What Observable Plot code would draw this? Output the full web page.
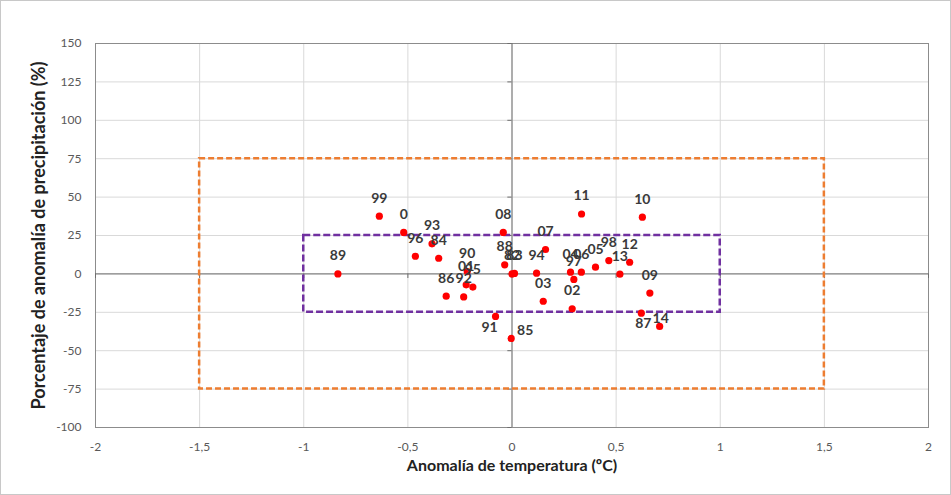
<!DOCTYPE html>
<html><head><meta charset="utf-8">
<script src="https://cdn.jsdelivr.net/npm/d3@7"></script>
<script src="https://cdn.jsdelivr.net/npm/@observablehq/plot@0.6"></script>
<style>
body{margin:0;background:#fff}
#chart svg{display:block;outline:1px solid #c8c8c8;outline-offset:-1px}
</style>
</head><body><div id="chart"></div>
<script>
// ---- data ----
const years = ["84","85","86","87","88","89","90","91","92","93","94","95","96","97","98","99",
  "0","01","02","03","04","05","06","07","08","09","10","11","12","13","14","82","83"];
const tempAnomaly = [-0.352,-0.004,-0.316,0.621,-0.035,-0.836,-0.215,-0.079,-0.232,-0.384,0.118,-0.188,-0.464,0.297,0.465,-0.637,
  -0.52,-0.22,0.289,0.15,0.281,0.401,0.333,0.161,-0.042,0.662,0.626,0.334,0.565,0.518,0.709,0.0,0.012];
const precipAnomaly = [10.2,-42,-14.5,-25.6,5.9,0,1.5,-27.7,-15,19.6,0.5,-8.6,11.5,-3.6,8.7,37.6,
  27,-7.1,-22.7,-17.8,1.1,4.4,1.1,15.9,27,-12.5,36.9,39,7.6,-0.2,-34.2,0,0.3];
const xTicks = [-2,-1.5,-1,-0.5,0,0.5,1,1.5,2];
const yTicks = [-100,-75,-50,-25,0,25,50,75,100,125,150];
const outerBoxX = [-1.5, 1.5];
const outerBoxY = [-75, 75];
const innerBoxX = [-1, 1];
const innerBoxY = [-25, 25];
const xTitle = "Anomalía de temperatura (ºC)";
const yTitle = "Porcentaje de anomalía de precipitación (%)";

// ---- build ----
const points = years.map((yr, i) => ({year: yr, t: tempAnomaly[i], p: precipAnomaly[i]}));
// label placement (styling, not data)
const nudges = {"91": [-6, 11], "85": [14, -8], "87": [2, 10], "14": [1, -8]};
const fmtX = d => String(d).replace(".", ",");
const fmtY = d => String(d);
const font = "Lato, 'Open Sans', sans-serif";
const labelStyle = {fill: "#3a3a3a", fontSize: 14, fontWeight: "bold", fontFamily: font};

const marks = [
  Plot.gridX(xTicks, {stroke: "#d9d9d9", strokeOpacity: 1}),
  Plot.gridY(yTicks, {stroke: "#d9d9d9", strokeOpacity: 1}),
  Plot.frame({stroke: "#8c8c8c"}),
  Plot.ruleX([0], {stroke: "#6e6e6e"}),
  Plot.ruleY([0], {stroke: "#6e6e6e"}),
  Plot.ruleX(xTicks, {x: d => d, y1: 0, y2: -3, stroke: "#6e6e6e"}),
  Plot.ruleY(yTicks, {y: d => d, x1: 0, x2: -0.02, stroke: "#6e6e6e"}),
  Plot.rect([{}], {x1: () => outerBoxX[0], x2: () => outerBoxX[1], y1: () => outerBoxY[0], y2: () => outerBoxY[1],
    fill: "none", stroke: "#ED7D31", strokeWidth: 2.5, strokeDasharray: "6,3"}),
  Plot.rect([{}], {x1: () => innerBoxX[0], x2: () => innerBoxX[1], y1: () => innerBoxY[0], y2: () => innerBoxY[1],
    fill: "none", stroke: "#7030A0", strokeWidth: 2.5, strokeDasharray: "7,3"}),
  Plot.dot(points, {x: "t", y: "p", r: 3.6, fill: "#ff0000", stroke: "none"}),
  Plot.text(points.filter(d => !nudges[d.year]), {x: "t", y: "p", text: "year", dy: -18, ...labelStyle}),
  ...Object.entries(nudges).map(([yr, [dx, dy]]) =>
    Plot.text(points.filter(d => d.year === yr), {x: "t", y: "p", text: "year", dx, dy, ...labelStyle})),
  Plot.axisX(xTicks, {tickSize: 0, tickPadding: 15, tickFormat: fmtX, fontSize: 12, fill: "#595959",
    fontFamily: font, label: null}),
  Plot.axisY(yTicks, {tickSize: 0, tickPadding: 14, tickFormat: fmtY, fontSize: 12, fill: "#595959",
    fontFamily: font, label: null}),
  Plot.text([xTitle], {frameAnchor: "bottom", dy: 43, text: d => d, fontSize: 16, fontWeight: "bold",
    fill: "#222", fontFamily: font}),
  Plot.text([yTitle], {frameAnchor: "left", dx: -56, rotate: -90, textAnchor: "middle", text: d => d,
    fontSize: 18, fontWeight: "bold", fill: "#222", fontFamily: font})
];

const chart = Plot.plot({
  width: 951,
  height: 495,
  marginLeft: 95,
  marginRight: 23,
  marginTop: 43,
  marginBottom: 68,
  x: {domain: [-2, 2]},
  y: {domain: [-100, 150]},
  style: {background: "#fff", fontFamily: font, overflow: "visible"},
  marks
});
document.getElementById("chart").appendChild(chart);
</script>
</body></html>
